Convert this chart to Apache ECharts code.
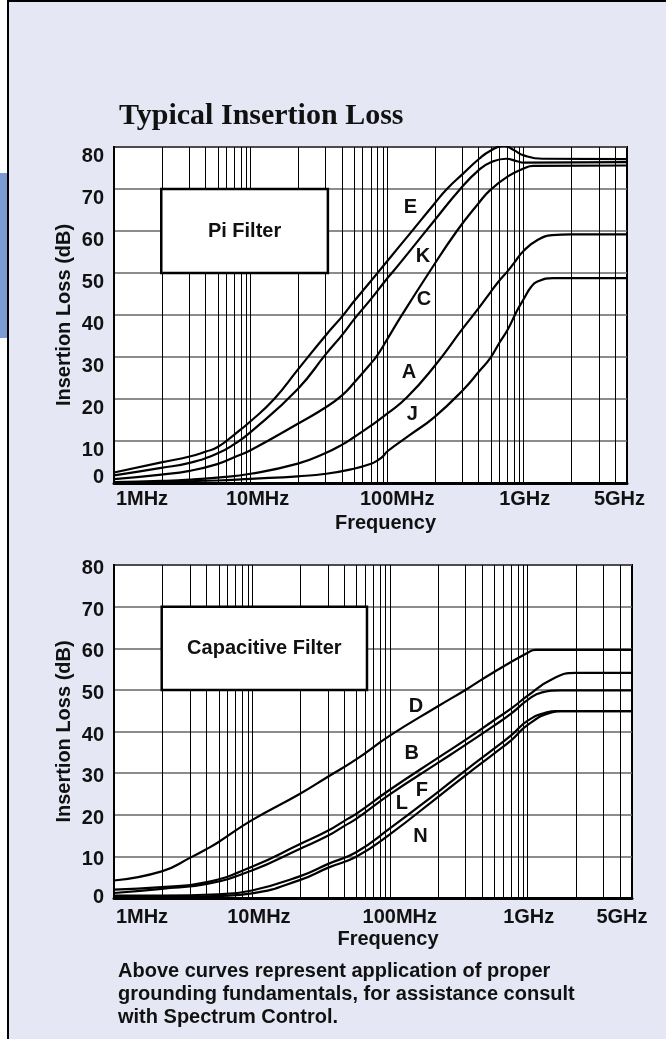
<!DOCTYPE html>
<html><head><meta charset="utf-8">
<script src="https://cdn.jsdelivr.net/npm/echarts@6/dist/echarts.min.js"></script>
<style>
html,body{margin:0;padding:0;background:#fff;}
#page{position:relative;width:666px;height:1039px;overflow:hidden;background:#fff;}
#panel{position:absolute;left:7px;top:0;right:0;bottom:0;background:#e5e7f4;border-left:2px solid #000;border-top:2px solid #000;}
#tab{position:absolute;left:0;top:173px;width:7px;height:165px;background:#7a9bd2;}
#chart{position:absolute;left:0;top:0;width:666px;height:1039px;}
</style></head>
<body><div id="page"><div id="panel"></div><div id="tab"></div><div id="chart"></div></div>
<script>
// ---- Data (frequency in MHz, insertion loss in dB) ----
const xTickFreqs = [1, 10, 100, 1000, 5000];
const xTickLabels = ['1MHz', '10MHz', '100MHz', '1GHz', '5GHz'];
const yTicks = [0, 10, 20, 30, 40, 50, 60, 70, 80];
// grid-paper fraction of a decade at 1x..10x (as printed on the original chart)
const decadeFractions = [0, 0.346, 0.554, 0.674, 0.756, 0.822, 0.884, 0.930, 0.971, 1];
const gridFreqs = [2,3,4,5,6,7,8,9,10,20,30,40,50,60,70,80,90,100,200,300,400,500,600,700,800,900,1000,2000,3000,4000];

// Pi filter
const piE_f  = [1,2,3,4,5,7,10,15,20,30,40,50,70,100,149,200,244,300,400,500,650,800,1000,1400,5000];
const piE_db = [2.5,4.9,6.3,7.5,8.5,11.6,14.7,20,27.0,35.3,39.8,43.2,48.2,52.8,59.5,66.5,70,73.6,77.2,79.1,80.3,79.2,78.0,77.2,77.1];
const piK_f  = [1,2,3,5,7,10,20,30,40,50,70,100,113,149,200,291,400,500,680,850,1000,5000];
const piK_db = [1.8,3.6,4.8,7.0,9.3,12.1,22.4,30.8,35.4,38.9,43.9,48.7,50.4,55.4,62.5,70,74.6,76.3,77.2,76.6,76.3,76.4];
const piC_f  = [1,2,3,5,7,10,20,30,40,50,70,80,100,129,188,279,400,500,700,1000,1200,5000];
const piC_db = [0.9,2.0,2.9,4.5,6.2,7.8,14.1,18.1,21.0,23.8,28.6,30.5,34.2,39.6,50,60,66.8,69.8,73,74.9,75.5,75.6];
const piA_f  = [1,2,3,5,10,20,30,40,50,70,100,142,200,300,400,500,600,700,800,1000,1300,1600,2000,5000];
const piA_db = [0.2,0.5,0.8,1.3,2.2,4.6,7.2,9.2,10.9,13.7,16.5,20.4,27.8,36.8,41.8,45.4,48.2,50.5,52.4,55.3,57.9,59.0,59.2,59.2];
const piJ_f  = [1,5,10,20,30,50,70,80,90,100,149,200,300,400,500,600,700,841,1000,1150,1280,1624,5000];
const piJ_db = [0.1,0.6,1.0,1.6,2.2,3.4,4.6,5.4,6.4,7.5,11.5,15.7,22.1,26.6,29.8,33.4,36.6,40.8,43.8,46.6,47.9,48.8,48.8];
const piLetters = ['E','K','C','A','J'];
const piLetterFreq = [149, 176, 178, 146, 153];
const piLetterDb = [65.7, 54, 43.6, 26.4, 16.4];

// Capacitive filter
const capD_f  = [1,2,3,4,5,10,20,30,50,100,200,300,500,1000,1160,5000];
const capD_db = [4.2,6.4,9.7,11.8,13.4,18.7,25.0,29.2,33.3,39.0,46.0,50.1,54.3,58.9,59.6,59.6];
const capB_f  = [1,2,4,10,20,30,40,50,100,200,300,500,700,1000,1500,2000,5000];
const capB_db = [2.0,2.6,3.8,7.5,12.9,16.2,18.6,20.2,26.0,33.6,38.1,42.7,45.6,48.6,52.5,54.1,54.1];
const capF_f  = [1,2,4,10,20,30,40,50,100,200,300,500,700,1000,1300,1700,5000];
const capF_db = [1.2,2.2,3.4,6.6,11.8,15.0,17.4,19.0,24.9,32.4,36.9,41.4,44.4,47.6,49.4,49.9,49.9];
const capL_f  = [1,2,5,10,20,30,50,100,200,300,500,700,1000,1400,1600,5000];
const capL_db = [0.6,0.6,0.9,1.8,5.2,8.2,11.0,16.7,25.4,30.8,35.9,39.2,42.6,44.6,44.9,44.9];
const capN_f  = [1,2,5,10,20,30,50,100,200,300,500,700,1000,1500,1700,5000];
const capN_db = [0.2,0.2,0.5,1.1,4.3,7.3,9.9,15.3,24.2,29.6,34.7,38.0,41.6,44.6,44.9,44.9];
const capLetters = ['D','B','F','L','N'];
const capLetterFreq = [155, 146, 167, 125, 164];
const capLetterDb = [46.1, 34.7, 25.9, 22.7, 14.7];

// ---- helpers ----
function toPos(f) {
  let n = Math.floor(Math.log10(f) + 1e-9);
  let m = f / Math.pow(10, n);
  let k = Math.floor(m + 1e-9);
  if (k >= 10) { k = 9; }
  const fr = decadeFractions[k - 1] + (decadeFractions[k] - decadeFractions[k - 1]) * (m - k);
  return n + fr;
}
const FONT = '"Liberation Sans", Arial, Helvetica, sans-serif';
const TXT = '#111';
const xMax = toPos(5000);

function makeAxes(gi, yPadDown, zeroPadUp, xMargin, nameGap, fiveShift) {
  const shifts = [56, 14, 20, 2, -fiveShift];
  const rich = {};
  shifts.forEach((s, i) => {
    rich['s' + i] = {fontFamily: FONT, fontSize: 20, fontWeight: 'bold', color: TXT,
      padding: s >= 0 ? [0, 0, 0, s] : [0, -s, 0, 0]};
  });
  const xAxis = {
    gridIndex: gi, type: 'value', min: 0, max: xMax,
    axisLine: {show: true, onZero: false, lineStyle: {color: '#000', width: 3}},
    axisTick: {show: false}, splitLine: {show: false},
    axisLabel: {
      customValues: xTickFreqs.map(toPos), margin: xMargin,
      formatter: function (v) {
        for (let i = 0; i < xTickFreqs.length; i++) {
          if (Math.abs(toPos(xTickFreqs[i]) - v) < 1e-6) return '{s' + i + '|' + xTickLabels[i] + '}';
        }
        return '';
      },
      rich: rich
    },
    name: 'Frequency', nameLocation: 'middle', nameGap: nameGap, nameMoveOverlap: false,
    nameTextStyle: {fontFamily: FONT, fontSize: 20, fontWeight: 'bold', color: TXT, padding: [0, 0, 0, 30]}
  };
  const yAxis = {
    gridIndex: gi, type: 'value', min: 0, max: 80, interval: 10,
    axisLine: {show: true, lineStyle: {color: '#000', width: 2}},
    axisTick: {show: false},
    splitLine: {show: true, lineStyle: {color: '#666', width: 1.5}},
    axisLabel: {
      margin: 10,
      customValues: yTicks,
      formatter: v => v === 0 ? '{z|0}' : '{d|' + v + '}',
      rich: {
        d: {fontFamily: FONT, fontSize: 20, fontWeight: 'bold', color: TXT, padding: [yPadDown, 0, 0, 0]},
        z: {fontFamily: FONT, fontSize: 20, fontWeight: 'bold', color: TXT, padding: [0, 0, zeroPadUp, 0]}
      }
    },
    name: 'Insertion Loss (dB)', nameLocation: 'middle', nameGap: 40, nameMoveOverlap: false,
    nameTextStyle: {fontFamily: FONT, fontSize: 20, fontWeight: 'bold', color: TXT}
  };
  return {xAxis, yAxis};
}

function gridSeries(gi) {
  return {
    type: 'line', xAxisIndex: gi, yAxisIndex: gi, data: [], silent: true, animation: false,
    markLine: {
      z: 1, silent: true, symbol: ['none', 'none'], animation: false,
      label: {show: false},
      lineStyle: {color: '#000', width: 1, type: 'solid', opacity: 1},
      emphasis: {disabled: true},
      data: gridFreqs.map(f => ({xAxis: toPos(f)}))
    }
  };
}
function boxSeries(gi, label, f0, f1) {
  return {
    type: 'line', xAxisIndex: gi, yAxisIndex: gi, data: [], silent: true, animation: false,
    markArea: {
      z: 2, silent: true, animation: false,
      itemStyle: {color: '#fff', borderColor: '#000', borderWidth: 2.5, opacity: 1},
      label: {show: true, position: 'inside', color: TXT, fontFamily: FONT, fontSize: 20, fontWeight: 'bold'},
      emphasis: {disabled: true},
      data: [[{name: label, xAxis: toPos(f0), yAxis: 70}, {xAxis: toPos(f1), yAxis: 50}]]
    }
  };
}
function curve(gi, letter, f, db, lf, ldb) {
  return {
    name: letter, type: 'line', xAxisIndex: gi, yAxisIndex: gi, z: 3,
    data: f.map((v, i) => [toPos(v), db[i]]),
    smooth: 0.5, showSymbol: false, symbol: 'none', silent: true, animation: false,
    lineStyle: {color: '#000', width: 2.2},
    markPoint: {
      symbol: 'circle', symbolSize: 1, silent: true, animation: false,
      itemStyle: {color: 'rgba(0,0,0,0)'},
      label: {show: true, position: 'inside', formatter: letter, color: TXT, fontFamily: FONT, fontSize: 20, fontWeight: 'bold'},
      data: [{coord: [toPos(lf), ldb]}]
    }
  };
}

const topAx = makeAxes(0, 18, 12, 6, 30, 15);
const botAx = makeAxes(1, 7, 2, 9, 31, 20);

const series = [gridSeries(0), gridSeries(1), boxSeries(0, 'Pi Filter', 2, 31), boxSeries(1, 'Capacitive Filter', 2, 62)];
const piF = [piE_f, piK_f, piC_f, piA_f, piJ_f];
const piD = [piE_db, piK_db, piC_db, piA_db, piJ_db];
piLetters.forEach((L, i) => series.push(curve(0, L, piF[i], piD[i], piLetterFreq[i], piLetterDb[i])));
const capF = [capD_f, capB_f, capF_f, capL_f, capN_f];
const capD = [capD_db, capB_db, capF_db, capL_db, capN_db];
capLetters.forEach((L, i) => series.push(curve(1, L, capF[i], capD[i], capLetterFreq[i], capLetterDb[i])));

const chart = echarts.init(document.getElementById('chart'), null, {renderer: 'canvas'});
chart.setOption({
  animation: false,
  backgroundColor: 'transparent',
  title: [
    {text: 'Typical Insertion Loss', left: 119, top: 101, padding: 0,
     textStyle: {fontFamily: '"Liberation Serif", "Times New Roman", serif', fontSize: 30, fontWeight: 'bold', color: '#111'}},
    {text: 'Above curves represent application of proper\ngrounding fundamentals, for assistance consult\nwith Spectrum Control.',
     left: 118, top: 960, padding: 0,
     textStyle: {fontFamily: FONT, fontSize: 20, fontWeight: 'bold', color: '#111', lineHeight: 23}}
  ],
  grid: [
    {left: 114, top: 147, width: 513, height: 336, show: true, backgroundColor: '#fff', borderColor: '#000', borderWidth: 2, containLabel: false, outerBoundsMode: 'none'},
    {left: 114, top: 565, width: 518, height: 333, show: true, backgroundColor: '#fff', borderColor: '#000', borderWidth: 2, containLabel: false, outerBoundsMode: 'none'}
  ],
  xAxis: [topAx.xAxis, botAx.xAxis],
  yAxis: [topAx.yAxis, botAx.yAxis],
  series: series
});
</script></body></html>
